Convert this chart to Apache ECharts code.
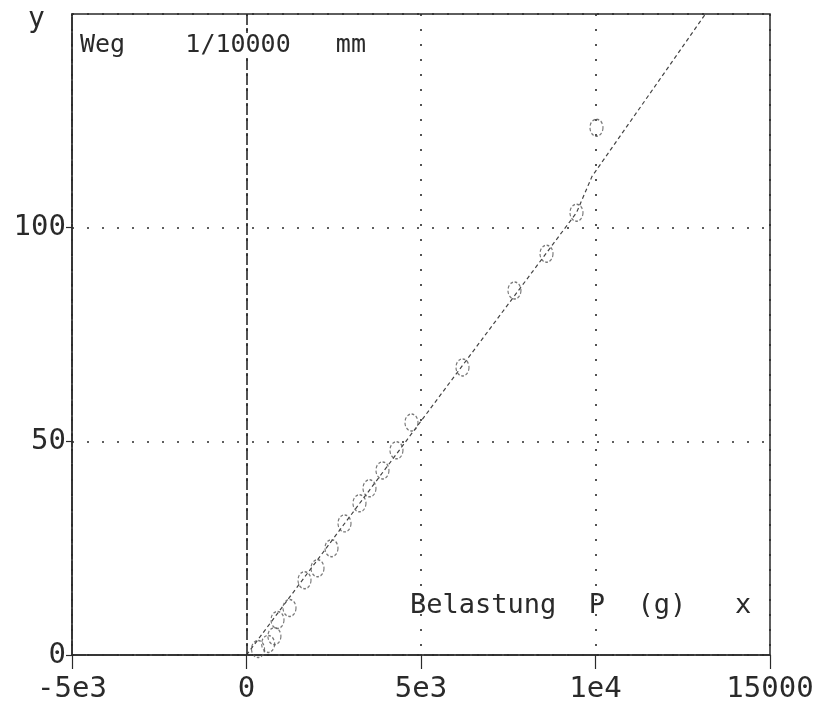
<!DOCTYPE html>
<html>
<head>
<meta charset="utf-8">
<script src="https://cdn.jsdelivr.net/npm/echarts@6/dist/echarts.min.js"></script>
<style>
html,body{margin:0;padding:0;background:#fff;}
#chart{width:832px;height:710px;}
</style>
</head>
<body>
<div id="chart"></div>
<script>
// Measured points: load P (g) vs displacement (1/10000 mm)
var loadX = [330, 620, 800, 888, 1232, 1662, 2034, 2435, 2808, 3237, 3524, 3896, 4297, 4727, 6189, 7678, 8596, 9455, 10028];
var dispY = [1.4, 2.6, 4.4, 8.2, 11.0, 17.5, 20.3, 25.0, 30.8, 35.5, 39.0, 43.2, 47.9, 54.4, 67.3, 85.3, 93.9, 103.5, 123.4];
// Drawn curve through the data
var curveX = [0, 9455, 9900, 13150];
var curveY = [0, 103.5, 112, 150];
// Tick labels
var xTickValues = [-5000, 0, 5000, 10000, 15000];
var xTickLabels = ['-5e3', '0', '5e3', '1e4', '15000'];
var yTickValues = [0, 50, 100];
var yTickLabels = ['0', '50', '100'];

var pts = loadX.map(function(x, i){ return [x, dispY[i]]; });
var curve = curveX.map(function(x, i){ return [x, curveY[i]]; });

var FONT = 'DejaVu Sans Mono';
var INK = '#2a2a2a';

var chart = echarts.init(document.getElementById('chart'));
chart.setOption({
  animation: false,
  backgroundColor: '#fff',
  grid: {left: 72, right: 62, top: 14, bottom: 55, show: true, borderColor: INK, borderWidth: 1.5},
  xAxis: {
    type: 'value', min: -5000, max: 15000, interval: 5000,
    axisLine: {show: true, onZero: false, lineStyle: {color: INK, width: 1.5, type: [14, 2]}},
    axisTick: {show: true, length: 14, lineStyle: {color: INK, width: 1.2}},
    axisLabel: {
      margin: 20, fontFamily: FONT, fontSize: 29, color: INK,
      formatter: function(v){ var i = xTickValues.indexOf(v); return i >= 0 ? xTickLabels[i] : ''; }
    },
    splitLine: {show: true, lineStyle: {color: INK, width: 1.6, type: [2, 13]}}
  },
  yAxis: {
    type: 'value', min: 0, max: 150, interval: 50,
    axisLine: {show: true, onZero: false, lineStyle: {color: INK, width: 1.5, type: [14, 2]}},
    axisTick: {show: true, length: 6, lineStyle: {color: INK, width: 1.2}},
    axisLabel: {
      margin: 6, fontFamily: FONT, fontSize: 29, color: INK, showMaxLabel: false,
      formatter: function(v){ var i = yTickValues.indexOf(v); return i >= 0 ? yTickLabels[i] : ''; }
    },
    splitLine: {show: true, lineStyle: {color: INK, width: 1.6, type: [2, 13]}}
  },
  series: [
    {
      type: 'line', data: curve, showSymbol: false, symbol: 'none',
      lineStyle: {color: '#444', width: 1.2, type: [4, 3]},
      z: 3,
      markLine: {
        silent: true, symbol: 'none', label: {show: false},
        lineStyle: {color: INK, width: 1.6, type: [12, 3]},
        data: [{xAxis: 0}]
      }
    },
    {
      type: 'scatter', data: pts, symbol: 'circle', symbolSize: [13, 17],
      itemStyle: {color: 'rgba(0,0,0,0)', borderColor: '#555', borderWidth: 1.3, borderType: [3, 2]},
      z: 4
    }
  ],
  graphic: [
    {type: 'text', left: 28, top: 6, style: {text: 'y', font: '28px "DejaVu Sans Mono"', fill: INK}},
    {type: 'text', left: 80, top: 33, z: 10, style: {text: 'Weg    1/10000   mm', font: '25px "DejaVu Sans Mono"', fill: INK, backgroundColor: '#fff'}},
    {type: 'text', left: 410, top: 592, z: 10, style: {text: 'Belastung  P  (g)   x', font: '27px "DejaVu Sans Mono"', fill: INK}}
  ]
});
</script>
</body>
</html>
